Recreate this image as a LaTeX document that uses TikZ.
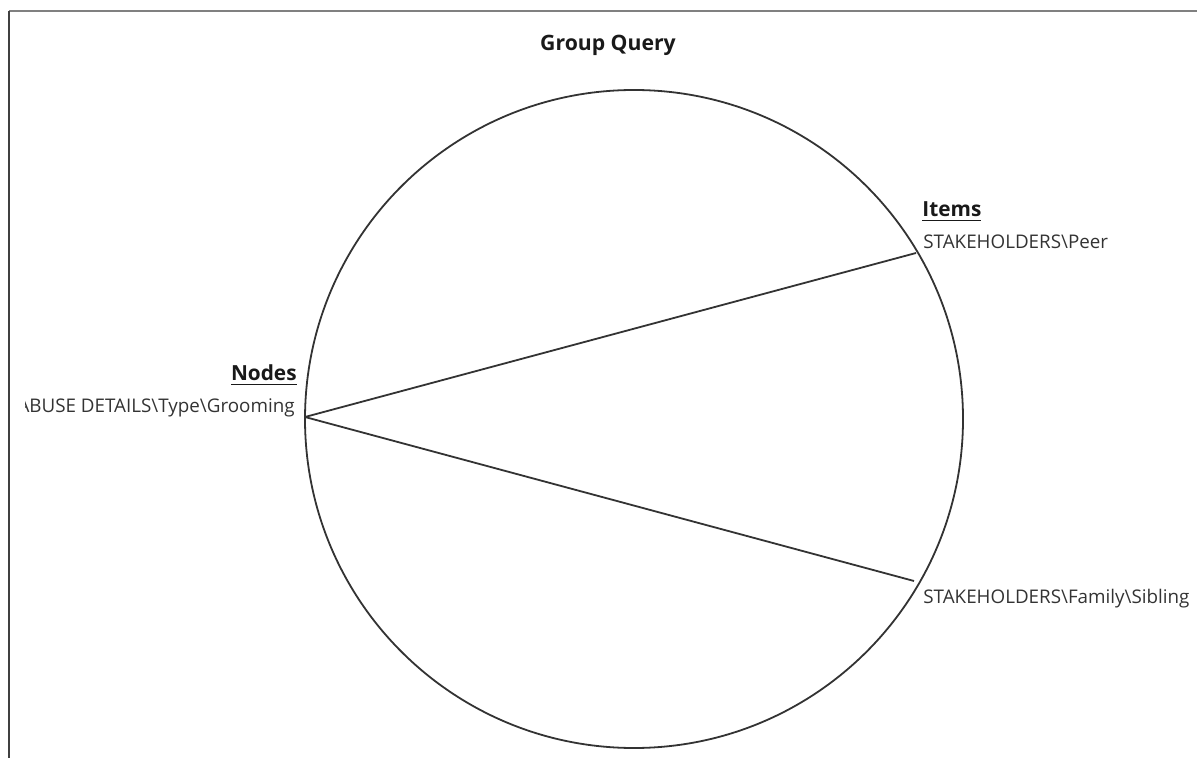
\documentclass[tikz,border=0pt]{standalone}
\usepackage{fontspec}
\setmainfont{Open Sans}
\tikzset{
  label text/.style={inner sep=0pt, font=\fontsize{9.4}{11}\selectfont, text=black!80},
  head text/.style={inner sep=0pt, font=\fontsize{10.4}{12}\selectfont\bfseries, text=black!90}
}
\begin{document}
\begin{tikzpicture}[x=0.5pt, y=-0.5pt]
        \useasboundingbox (0,0) rectangle (1197,758);

        % Frame of the window
        \draw[line width=1.2pt, gray] (9,11) -- (1197,11);
        \draw[line width=1.2pt, black!75] (9,11) -- (9,758);

        % Circle with the three points on it
        \coordinate (centre) at (634,419);
        \draw[line width=0.9pt, black!80] (centre) circle[radius=329];
        \coordinate (left) at (305,417);
        \coordinate (upright) at (916,253);
        \coordinate (lowright) at (914,581);

        % Connectors
        \draw[line width=0.9pt, black!80] (left) -- (upright);
        \draw[line width=0.9pt, black!80] (left) -- (lowright);

        % Title
        \node[head text, anchor=base, font=\fontsize{10.6}{12}\selectfont\bfseries] (title) at (608,51) {Group Query};

        % Items
        \node[head text, anchor=base west] (items) at (922,217) {\underline{Items}};
        \node[label text, anchor=base west] (peer) at (923,249) {STAKEHOLDERS\textbackslash Peer};
        \node[label text, anchor=base west] (sibling) at (923,603) {STAKEHOLDERS\textbackslash Family\textbackslash Sibling};

        % Nodes
        \node[head text, anchor=base east] (nodes) at (297,381) {\underline{Nodes}};
        \begin{scope}
          \clip (25,0) rectangle (1197,758);
          \node[label text, anchor=base east] (grooming) at (295,413) {ABUSE DETAILS\textbackslash Type\textbackslash Grooming};
        \end{scope}
    \end{tikzpicture}
\end{document}
